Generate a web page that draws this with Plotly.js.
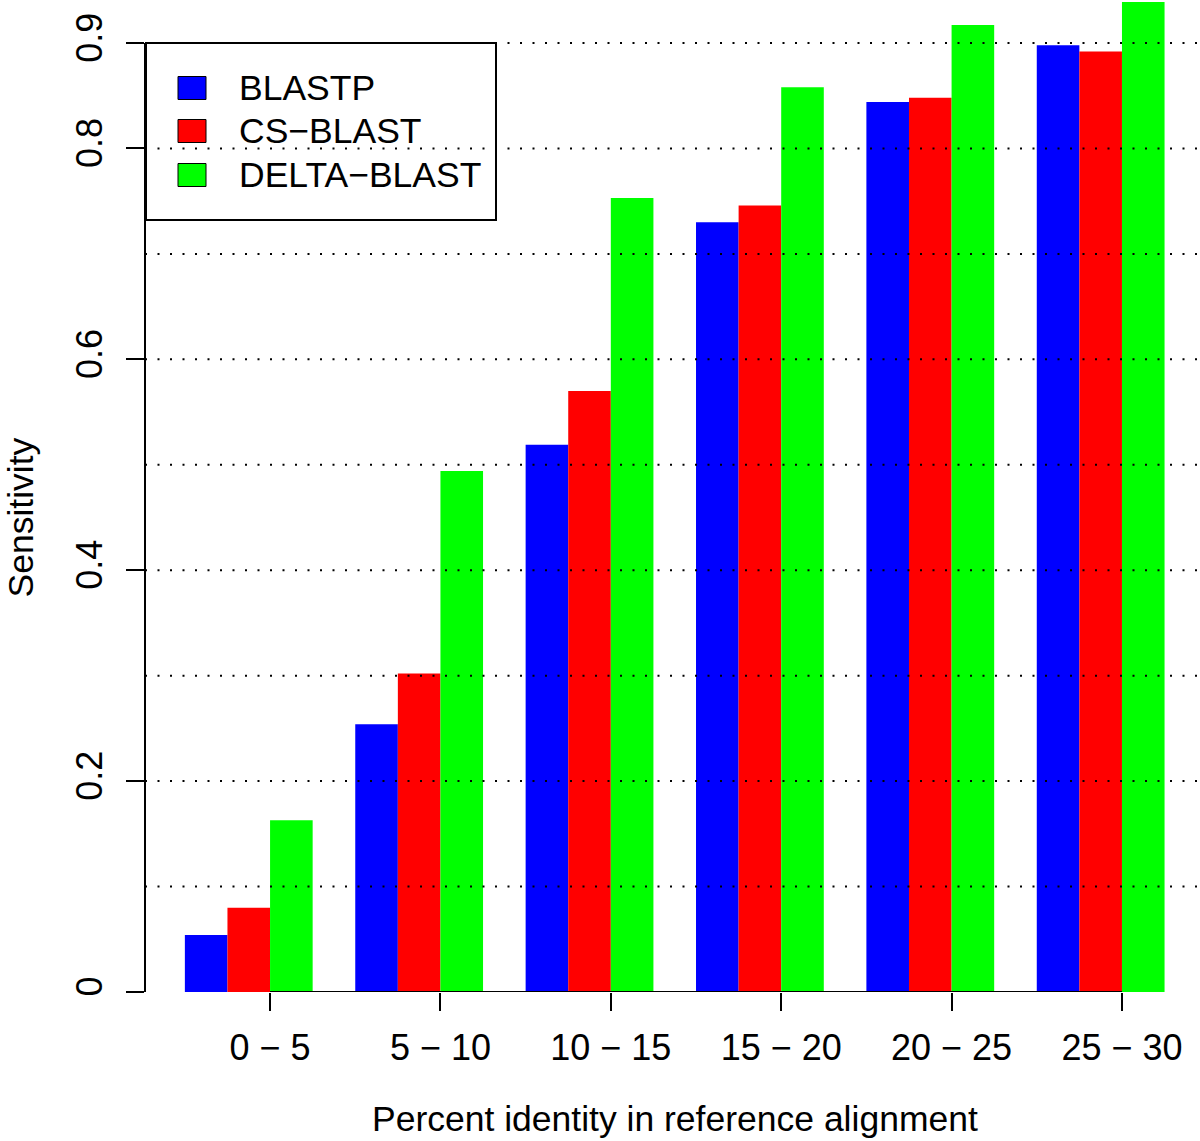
<!DOCTYPE html>
<html>
<head>
<meta charset="utf-8">
<script src="https://cdn.plot.ly/plotly-3.0.1.min.js"></script>
<style>html,body{margin:0;padding:0;background:#fff;}#chart{width:1200px;height:1141px;}</style>
</head>
<body>
<div id="chart"></div>
<script>
// ---- data ----
const categories = ["0 \u2212 5", "5 \u2212 10", "10 \u2212 15", "15 \u2212 20", "20 \u2212 25", "25 \u2212 30"];
const seriesNames = ["BLASTP", "CS\u2212BLAST", "DELTA\u2212BLAST"];
const blastp    = [0.054, 0.254, 0.519, 0.730, 0.844, 0.898];
const csblast   = [0.080, 0.302, 0.570, 0.746, 0.848, 0.892];
const deltablast= [0.163, 0.494, 0.753, 0.858, 0.917, 0.939];
const yTickVals = [0, 0.2, 0.4, 0.6, 0.8, 0.9];
const yTickText = ["0", "0.2", "0.4", "0.6", "0.8", "0.9"];
const gridVals  = [0.1, 0.2, 0.3, 0.4, 0.5, 0.6, 0.7, 0.8, 0.9];
const colors = ["#0000FF", "#FF0000", "#00FF00"];

// ---- layout helpers ----
const W = 1200, H = 1141, ML = 145, MR = 0, MT = 0, MB = 149;
const PW = W - ML - MR, PH = H - MT - MB;
const px = x => (x - ML) / PW;          // pixel x -> paper
const py = y => (H - MB - y) / PH;      // pixel y -> paper
const FONT = '"Liberation Sans", Arial, Helvetica, sans-serif';
const TXT = 35.5, TICK = 36;

const idx = categories.map((c, i) => i);
const tickPos = idx.map(i => i + 0.125);
const allSeries = [blastp, csblast, deltablast];

const traces = allSeries.map((vals, k) => ({
  type: 'bar', x: idx, y: vals, name: seriesNames[k],
  marker: {color: colors[k], line: {width: 0}},
  showlegend: false, hoverinfo: 'skip'
}));

const shapes = [];
// legend box (white, border)
shapes.push({type:'rect', xref:'paper', yref:'paper', x0:px(146), x1:px(496), y0:py(220), y1:py(43),
  fillcolor:'white', line:{color:'black', width:2}, layer:'above'});
const annotations = [];
const legRowY = [88, 131, 175];
seriesNames.forEach((n, k) => {
  shapes.push({type:'rect', xref:'paper', yref:'paper', x0:px(178), x1:px(206),
    y0:py(legRowY[k]+11.5), y1:py(legRowY[k]-11.5), fillcolor:colors[k], line:{color:'black', width:1}, layer:'above'});
  annotations.push({xref:'paper', yref:'paper', x:px(237), y:py(legRowY[k]), text:n, showarrow:false,
    xanchor:'left', yanchor:'middle', font:{size:TXT, color:'black', family:FONT}});
});
// dotted grid lines (drawn above bars, like the original)
gridVals.forEach(v => {
  shapes.push({type:'line', xref:'paper', yref:'y', x0:0, x1:1, y0:v, y1:v,
    line:{color:'black', width:2, dash:'2px,10.5px'}, layer:'above'});
});
// y axis line from 0 to top tick
shapes.push({type:'line', xref:'paper', yref:'y', x0:0, x1:0, y0:yTickVals[0], y1:yTickVals[yTickVals.length-1],
  line:{color:'black', width:2}, layer:'above'});
// x axis line from first to last tick
shapes.push({type:'line', xref:'x', yref:'y', x0:tickPos[0], x1:tickPos[tickPos.length-1], y0:0, y1:0,
  line:{color:'black', width:2}, layer:'above'});

// axis titles
annotations.push({xref:'paper', yref:'y', x:px(21), y:0.45, text:'Sensitivity', textangle:-90, showarrow:false,
  xanchor:'center', yanchor:'middle', font:{size:TXT, color:'black', family:FONT}});
annotations.push({xref:'paper', yref:'paper', x:px(675), y:py(1119), text:'Percent identity in reference alignment',
  showarrow:false, xanchor:'center', yanchor:'middle', font:{size:TXT, color:'black', family:FONT}});

const layout = {
  width: W, height: H,
  margin: {l: ML, r: MR, t: MT, b: MB, pad: 0},
  paper_bgcolor: 'white', plot_bgcolor: 'white',
  font: {family: FONT, color: 'black', size: TXT},
  barmode: 'group', bargap: 0.25, bargroupgap: 0,
  showlegend: false,
  xaxis: {
    range: [-0.609, 5.583], type: 'linear',
    tickmode: 'array', tickvals: tickPos, ticktext: categories,
    ticks: 'outside', ticklen: 18, tickwidth: 2, tickcolor: 'black',
    showgrid: false, zeroline: false, showline: false,
    tickfont: {size: TICK, family: FONT, color: 'black'},
    ticklabelstandoff: 6
  },
  yaxis: {
    range: [0, 0.9408],
    tickmode: 'array', tickvals: yTickVals, ticktext: yTickText,
    ticks: 'outside', ticklen: 18, tickwidth: 2, tickcolor: 'black',
    tickangle: -90,
    showgrid: false, zeroline: false, showline: false,
    tickfont: {size: TICK, family: FONT, color: 'black'},
    ticklabelstandoff: 10
  },
  shapes: shapes,
  annotations: annotations
};

Plotly.newPlot('chart', traces, layout, {displayModeBar: false, staticPlot: true});
</script>
</body>
</html>
